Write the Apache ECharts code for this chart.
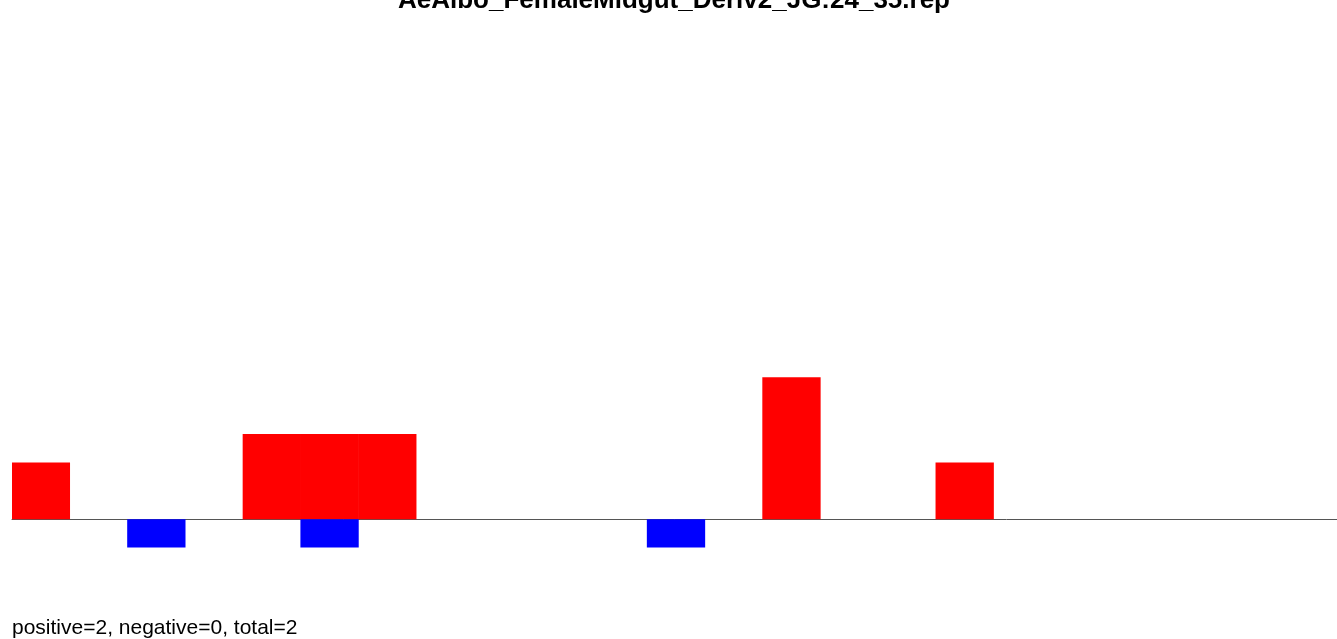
<!DOCTYPE html>
<html>
<head>
<meta charset="utf-8">
<script src="https://cdn.jsdelivr.net/npm/echarts@6/dist/echarts.min.js"></script>
<style>
  html, body { margin: 0; padding: 0; background: #fff; }
  #chart { width: 1337px; height: 639px; }
</style>
</head>
<body>
<div id="chart"></div>
<script>
var titleText = 'AeAlbo_FemaleMidgut_Deriv2_JG:24_35.rep';
var footerText = 'positive=2, negative=0, total=2';
var categories = [];
for (var i = 1; i <= 23; i++) categories.push(String(i));
var positiveValues = [2, 0, 0, 0, 3, 3, 3, 0, 0, 0, 0, 0, 0, 5, 0, 0, 2, 0, 0, 0, 0, 0, 0];
var negativeValues = [0, 0, -1, 0, 0, -1, 0, 0, 0, 0, 0, -1, 0, 0, 0, 0, 0, 0, 0, 0, 0, 0, 0];

// empty slots draw nothing
function blanks(arr) {
    return arr.map(function (v) { return v === 0 ? null : v; });
}

var myChart = echarts.init(document.getElementById('chart'));
var option = {
    animation: false,
    graphic: [
        {
            type: 'text',
            x: 674,
            y: 1,
            style: {
                text: titleText,
                font: 'bold 26px "Liberation Sans"',
                fill: '#000',
                align: 'center',
                verticalAlign: 'middle'
            }
        },
        {
            type: 'text',
            x: 12,
            y: 628,
            style: {
                text: footerText,
                font: '21px "Liberation Sans"',
                fill: '#000',
                align: 'left',
                verticalAlign: 'middle'
            }
        }
    ],
    grid: {
        left: 12,
        width: 1328,
        top: 65,
        height: 511,
        outerBoundsMode: 'none'
    },
    xAxis: {
        type: 'category',
        data: categories,
        axisLine: { show: true, lineStyle: { color: '#555', width: 1 } },
        axisTick: { show: false },
        axisLabel: { show: false },
        splitLine: { show: false }
    },
    yAxis: {
        type: 'value',
        min: -2,
        max: 16,
        show: false
    },
    series: [
        {
            name: 'positive',
            type: 'bar',
            data: blanks(positiveValues),
            barWidth: '101%',
            barGap: '-100%',
            itemStyle: { color: '#ff0000' }
        },
        {
            name: 'negative',
            type: 'bar',
            data: blanks(negativeValues),
            barWidth: '101%',
            barGap: '-100%',
            itemStyle: { color: '#0000ff' }
        }
    ]
};
myChart.setOption(option);
</script>
</body>
</html>
